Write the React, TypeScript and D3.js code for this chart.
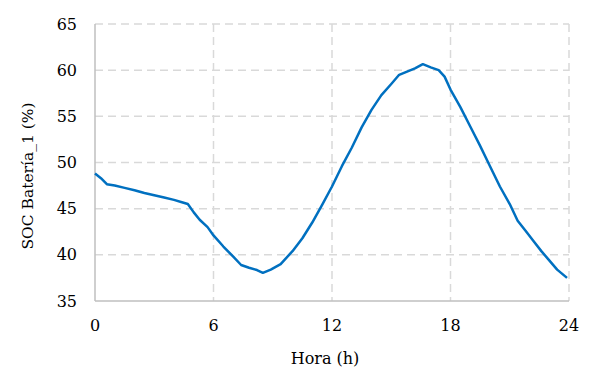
import React, { useEffect, useRef } from 'react';
import * as d3 from 'd3';

// Hour of day
const hours = [
  0, 0.3, 0.6, 1, 1.5, 2, 2.5, 3, 3.5, 4, 4.4, 4.7, 5, 5.3, 5.7, 6, 6.5, 7, 7.4, 7.8,
  8.2, 8.5, 8.9, 9.4, 10, 10.5, 11, 11.5, 12, 12.5, 13, 13.5, 14, 14.5, 15, 15.4, 15.8,
  16.2, 16.6, 17, 17.4, 17.7, 18, 18.5, 19, 19.5, 20, 20.5, 21, 21.4, 21.8, 22.2, 22.6,
  23, 23.4, 23.9,
];

// SOC of battery 1 (%)
const soc = [
  48.8, 48.3, 47.65, 47.5, 47.25, 47.0, 46.7, 46.45, 46.2, 45.95, 45.7, 45.5, 44.6, 43.8,
  43.0, 42.1, 40.9, 39.8, 38.9, 38.6, 38.35, 38.05, 38.4, 39.0, 40.4, 41.8, 43.5, 45.4,
  47.4, 49.6, 51.6, 53.8, 55.7, 57.3, 58.5, 59.5, 59.85, 60.2, 60.65, 60.3, 60.0, 59.3,
  57.9, 56.0, 53.9, 51.8, 49.6, 47.4, 45.5, 43.7, 42.6, 41.5, 40.4, 39.4, 38.4, 37.5,
];

const xTicks = [0, 6, 12, 18, 24];
const yTicks = [35, 40, 45, 50, 55, 60, 65];

const App: React.FC = () => {
  const chartRef = useRef<SVGSVGElement>(null);

  useEffect(() => {
    if (!chartRef.current) return;
    d3.select(chartRef.current).selectAll('*').remove();

    const svg = d3.select(chartRef.current);
    const font = '"DejaVu Serif", serif';

    const x = d3.scaleLinear().domain([0, 24]).range([95, 569]);
    const y = d3.scaleLinear().domain([35, 65]).range([301, 24]);

    // Horizontal grid lines
    svg.append('g')
      .selectAll('line')
      .data(yTicks.filter(t => t !== 35))
      .join('line')
      .attr('x1', x(0))
      .attr('x2', x(24))
      .attr('y1', d => y(d))
      .attr('y2', d => y(d))
      .attr('stroke', '#d9d9d9')
      .attr('stroke-width', 1.5)
      .attr('stroke-dasharray', '8,5');

    // Vertical grid lines
    svg.append('g')
      .selectAll('line')
      .data(xTicks.filter(t => t !== 0))
      .join('line')
      .attr('x1', d => x(d))
      .attr('x2', d => x(d))
      .attr('y1', y(65))
      .attr('y2', y(35))
      .attr('stroke', '#d9d9d9')
      .attr('stroke-width', 1.5)
      .attr('stroke-dasharray', '8,5');

    // Axis lines
    svg.append('line')
      .attr('x1', x(0)).attr('x2', x(0))
      .attr('y1', y(65)).attr('y2', y(35))
      .attr('stroke', '#bfbfbf').attr('stroke-width', 1.5);
    svg.append('line')
      .attr('x1', x(0)).attr('x2', x(24))
      .attr('y1', y(35)).attr('y2', y(35))
      .attr('stroke', '#bfbfbf').attr('stroke-width', 1.5);

    // Tick labels
    svg.append('g')
      .selectAll('text')
      .data(yTicks)
      .join('text')
      .attr('x', 77)
      .attr('y', d => y(d))
      .attr('dy', '0.35em')
      .attr('text-anchor', 'end')
      .attr('font-family', font)
      .attr('font-size', 16)
      .attr('fill', '#000')
      .text(d => d);

    svg.append('g')
      .selectAll('text')
      .data(xTicks)
      .join('text')
      .attr('x', d => x(d))
      .attr('y', 331)
      .attr('text-anchor', 'middle')
      .attr('font-family', font)
      .attr('font-size', 16)
      .attr('fill', '#000')
      .text(d => d);

    // Axis titles
    svg.append('text')
      .attr('x', 325)
      .attr('y', 364)
      .attr('text-anchor', 'middle')
      .attr('font-family', font)
      .attr('font-size', 16)
      .attr('fill', '#000')
      .text('Hora (h)');

    svg.append('text')
      .attr('transform', 'translate(33,176) rotate(-90)')
      .attr('text-anchor', 'middle')
      .attr('font-family', font)
      .attr('font-size', 15.5)
      .attr('fill', '#000')
      .text('SOC Batería_1 (%)');

    // SOC line
    const line = d3.line<number>()
      .x((_, i) => x(hours[i]))
      .y(d => y(d));

    svg.append('path')
      .datum(soc)
      .attr('fill', 'none')
      .attr('stroke', '#0070c0')
      .attr('stroke-width', 2.5)
      .attr('stroke-linejoin', 'round')
      .attr('d', line);
  }, []);

  return (
    <svg
      ref={chartRef}
      width={593}
      height={386}
      style={{ position: 'absolute', left: 0, top: 0, background: '#fff' }}
    />
  );
};

export default App;
